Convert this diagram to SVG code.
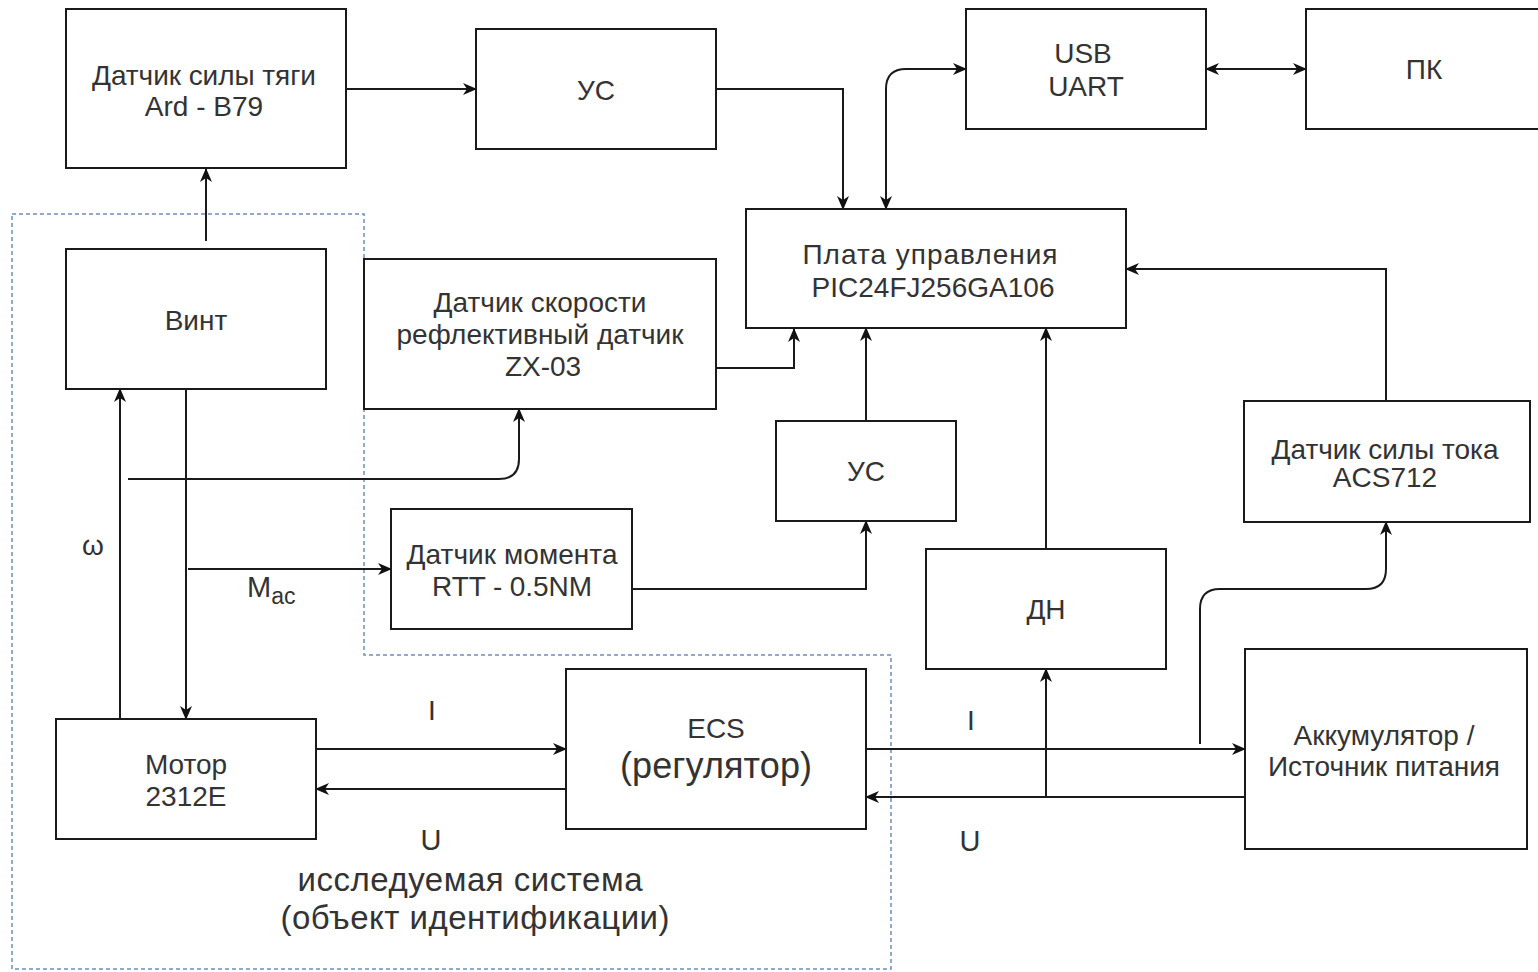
<svg xmlns="http://www.w3.org/2000/svg" width="1538" height="972" viewBox="0 0 1538 972">
<defs>
<marker id="arr" viewBox="0 0 14 12" refX="13" refY="6" markerWidth="14" markerHeight="12" markerUnits="userSpaceOnUse" orient="auto-start-reverse">
<path d="M0,0 L14,6 L0,12 L4,6 z" fill="#111"/>
</marker>
</defs>
<style>
.box{fill:#fff;stroke:#1a1a1a;stroke-width:2}
.t{font-family:"Liberation Sans",Arial,sans-serif;font-size:28px;fill:#333;text-anchor:middle}
.c{fill:none;stroke:#1a1a1a;stroke-width:2}
.ea{marker-end:url(#arr)}
.ba{marker-start:url(#arr);marker-end:url(#arr)}
.lbl{font-family:"Liberation Sans",Arial,sans-serif;fill:#333;text-anchor:middle}
</style>
<rect width="1538" height="972" fill="#fff"/>
<path id="boundary" d="M12,214 H364 V655 H891 V969 H12 Z" fill="none" stroke="#6c8ebf" stroke-width="1.5" stroke-dasharray="4,3"/>
<g id="connectors">
<path class="c ea" d="M206,241 V169"/>
<path class="c ea" d="M346,89 H476"/>
<path class="c ea" d="M716,89 H843 V209"/>
<path class="c ba" d="M886,209 V89 Q886,69 906,69 H966"/>
<path class="c ba" d="M1206,69 H1306"/>
<path class="c ea" d="M716,368 H794 V329"/>
<path class="c ea" d="M128,479 H499 Q519,479 519,459 V409"/>
<path class="c ea" d="M120,719 V389"/>
<path class="c ea" d="M186,389 V719"/>
<path class="c ea" d="M188,569 H391"/>
<path class="c ea" d="M632,589 H866 V521"/>
<path class="c ea" d="M866,421 V328"/>
<path class="c ea" d="M1046,549 V328"/>
<path class="c ea" d="M1386,401 V269 H1126"/>
<path class="c ea" d="M316,749 H566"/>
<path class="c ea" d="M566,789 H316"/>
<path class="c ea" d="M866,749 H1245"/>
<path class="c ea" d="M1245,797 H866"/>
<path class="c ea" d="M1046,797 V669"/>
<path class="c ea" d="M1200,744 V609 Q1200,589 1220,589 H1366 Q1386,589 1386,569 V522"/>
</g>
<g id="thrust"><rect class="box" x="66" y="9" width="280" height="159"/><text class="t" x="204" y="85" textLength="224">Датчик силы тяги</text><text class="t" x="204" y="116">Ard - B79</text></g>
<g id="us1"><rect class="box" x="476" y="29" width="240" height="120"/><text class="t" x="596" y="100">УС</text></g>
<g id="usb"><rect class="box" x="966" y="9" width="240" height="120"/><text class="t" x="1083" y="63">USB</text><text class="t" x="1086" y="96">UART</text></g>
<g id="pc"><rect class="box" x="1306" y="9" width="240" height="120"/><text class="t" x="1424" y="79">ПК</text></g>
<g id="board"><rect class="box" x="746" y="209" width="380" height="119"/><text class="t" x="930" y="264" textLength="255">Плата управления</text><text class="t" x="933" y="297" textLength="243">PIC24FJ256GA106</text></g>
<g id="vint"><rect class="box" x="66" y="249" width="260" height="140"/><text class="t" x="196" y="330">Винт</text></g>
<g id="speed"><rect class="box" x="364" y="259" width="352" height="150"/><text class="t" x="540" y="312" textLength="213">Датчик скорости</text><text class="t" x="540" y="344" textLength="287">рефлективный датчик</text><text class="t" x="543" y="376">ZX-03</text></g>
<g id="us2"><rect class="box" x="776" y="421" width="180" height="100"/><text class="t" x="866" y="481">УС</text></g>
<g id="torque"><rect class="box" x="391" y="509" width="241" height="120"/><text class="t" x="512" y="564" textLength="211">Датчик момента</text><text class="t" x="512" y="596" textLength="160">RTT - 0.5NM</text></g>
<g id="current"><rect class="box" x="1244" y="401" width="286" height="121"/><text class="t" x="1385" y="459" textLength="227">Датчик силы тока</text><text class="t" x="1385" y="487">ACS712</text></g>
<g id="dn"><rect class="box" x="926" y="549" width="240" height="120"/><text class="t" x="1046" y="619">ДН</text></g>
<g id="battery"><rect class="box" x="1245" y="649" width="282" height="200"/><text class="t" x="1384" y="745" textLength="181">Аккумулятор /</text><text class="t" x="1384" y="776" textLength="232">Источник питания</text></g>
<g id="ecs"><rect class="box" x="566" y="669" width="300" height="160"/><text class="t" x="716" y="738">ECS</text><text class="lbl" x="716" y="778" font-size="36" fill="#111" textLength="192">(регулятор)</text></g>
<g id="motor"><rect class="box" x="56" y="719" width="260" height="120"/><text class="t" x="186" y="774">Мотор</text><text class="t" x="186" y="806">2312E</text></g>
<g id="labels">
<text class="lbl" x="93" y="555" font-size="28">ω</text>
<text class="lbl" x="247" y="597" font-size="29" style="text-anchor:start">M<tspan font-size="23" dy="7">ac</tspan></text>
<text class="lbl" x="432" y="720" font-size="28">I</text>
<text class="lbl" x="431" y="850" font-size="29">U</text>
<text class="lbl" x="971" y="730" font-size="28">I</text>
<text class="lbl" x="970" y="851" font-size="29">U</text>
<text class="lbl" x="470" y="891" font-size="33" textLength="345">исследуемая система</text>
<text class="lbl" x="475" y="929" font-size="33" textLength="389">(объект идентификации)</text>
</g>
</svg>
